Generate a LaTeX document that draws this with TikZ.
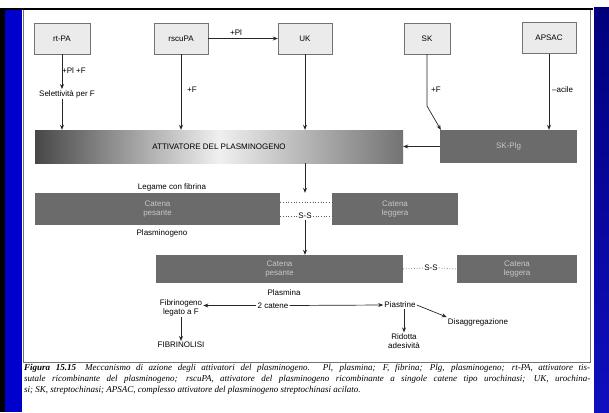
\documentclass[tikz,border=0pt]{standalone}
\usepackage{fontspec}
\setmainfont{Liberation Serif}
\setsansfont{Liberation Sans}
\usetikzlibrary{arrows.meta}
\tikzset{
  lbl/.style={font=\sffamily\fontsize{8}{9}\selectfont, inner sep=1pt},
  topbox/.style={draw=black!55, fill=black!8, lbl, minimum height=31pt},
  darkbox/.style={fill=black!58, text=black!22, lbl, align=center},
  link/.style={draw=black!85, line width=0.7pt, ->, >={Stealth[length=5pt,width=4pt]}},
  sslink/.style={draw=black!65, dotted, line width=0.7pt},
}
\begin{document}
\begin{tikzpicture}[x=1pt,y=-1pt]
\useasboundingbox (0,0) rectangle (609,412);

\fill[black] (0,8) rectangle (593,10.5);
\fill[black] (0,8) rectangle (5,412);
\fill[blue!80!black] (5,10.5) rectangle (22,412);
\shade[top color={rgb,255:red,0;green,0;blue,125}, bottom color={rgb,255:red,15;green,15;blue,190}] (594,8) rectangle (609,412);
\draw[black!55, line width=0.8pt] (23.5,10.5) -- (23.5,362) -- (590,362) -- (590,10.5);

\node[topbox, minimum width=56pt] (rtpa) at (62,38.5) {rt-PA};
\node[topbox, minimum width=54pt] (rscupa) at (181,38.5) {rscuPA};
\node[topbox, minimum width=54pt] (uk) at (305,38.5) {UK};
\node[topbox, minimum width=46pt] (sk) at (427,38.5) {SK};
\node[topbox, minimum width=54pt] (apsac) at (549,38) {APSAC};

\node[lbl, minimum width=368pt, minimum height=33pt, left color=black!72, right color=black!55, middle color=black!6] (act) at (219,146.5) {ATTIVATORE DEL PLASMINOGENO};
\node[darkbox, minimum width=137pt, minimum height=33pt] (skplg) at (508.5,146.5) {SK-Plg};
\node[darkbox, minimum width=245pt, minimum height=32pt] (plgh) at (157.5,209) {Catena\\pesante};
\node[darkbox, minimum width=126pt, minimum height=32pt] (plgl) at (395,209) {Catena\\leggera};
\node[darkbox, minimum width=247pt, minimum height=28pt] (plmh) at (279.5,269) {Catena\\pesante};
\node[darkbox, minimum width=120pt, minimum height=28pt] (plml) at (517,269) {Catena\\leggera};

\node[lbl] (pipf) at (74,71) {+Pl +F};
\node[lbl] (sel) at (67,94) {Selettività per F};
\node[lbl] (pl) at (236,33) {+Pl};
\node[lbl, anchor=west] (fr) at (186,90) {+F};
\node[lbl, anchor=west] (fs) at (430,90) {+F};
\node[lbl, anchor=west] (acile) at (551,90) {--acile};
\node[lbl] (legame) at (172,187) {Legame con fibrina};
\node[lbl] (plgname) at (162,233) {Plasminogeno};
\node[lbl] (ss1) at (305,216) {S-S};
\node[lbl] (ss2) at (431,268) {S-S};
\node[lbl] (plmname) at (284,293) {Plasmina};
\node[lbl] (catene) at (273,305.5) {2 catene};
\node[lbl, align=center] (fib) at (181,308) {Fibrinogeno\\legato a F};
\node[lbl] (fibrin) at (181,345) {FIBRINOLISI};
\node[lbl] (piast) at (400,305) {Piastrine};
\node[lbl] (disagg) at (478,322) {Disaggregazione};
\node[lbl, align=center] (ridotta) at (404,341) {Ridotta\\adesività};
\coordinate (skbend) at (427,106);

\draw[link] (rtpa.south) -- (rtpa.south |- sel.north);
\draw[link] (rtpa.south |- sel.south) -- (rtpa.south |- act.north);
\draw[link] (rscupa.east) -- (uk.west);
\draw[link] (rscupa.south) -- (rscupa.south |- act.north);
\draw[link] (uk.south) -- (uk.south |- act.north);
\draw[link] (sk.south) -- (skbend) -- ([xshift=1pt]skplg.north west);
\draw[link] (apsac.south) -- (apsac.south |- skplg.north);
\draw[link] (skplg.west) -- (act.east);
\draw[link] (uk.south |- act.south) -- (uk.south |- plgh.north);
\draw[sslink] ([yshift=7pt]plgh.east) -- ([yshift=7pt]plgl.west);
\draw[sslink] ([yshift=-7pt]plgh.east) -- (ss1.west);
\draw[sslink] (ss1.east) -- ([yshift=-7pt]plgl.west);
\draw[link] (ss1.south) -- (ss1.south |- plmh.north);
\draw[sslink] (plmh.east) -- (ss2.west);
\draw[sslink] (ss2.east) -- (plml.west);
\draw[link] (catene.west) -- (catene.west -| fib.east);
\draw[link] (catene.east) -- (piast.west);
\draw[link] (piast.east) -- (disagg.north west);
\draw[link] (ridotta.north |- piast.south) -- (ridotta.north);
\draw[link] (fib.south) -- (fibrin.north);

\node[anchor=north west, text width=566pt, align=justify, inner sep=0pt, font=\itshape\fontsize{9}{11}\selectfont] (caption) at (24,364) {\textbf{Figura 15.15}\quad Meccanismo di azione degli attivatori del plasminogeno. Pl, plasmina; F, fibrina; Plg, plasminogeno; rt-PA, attivatore tis-\linebreak sutale ricombinante del plasminogeno; rscuPA, attivatore del plasminogeno ricombinante a singole catene tipo urochinasi; UK, urochina-\linebreak si; SK, streptochinasi; APSAC, complesso attivatore del plasminogeno streptochinasi acilato.};
\end{tikzpicture}
\end{document}
